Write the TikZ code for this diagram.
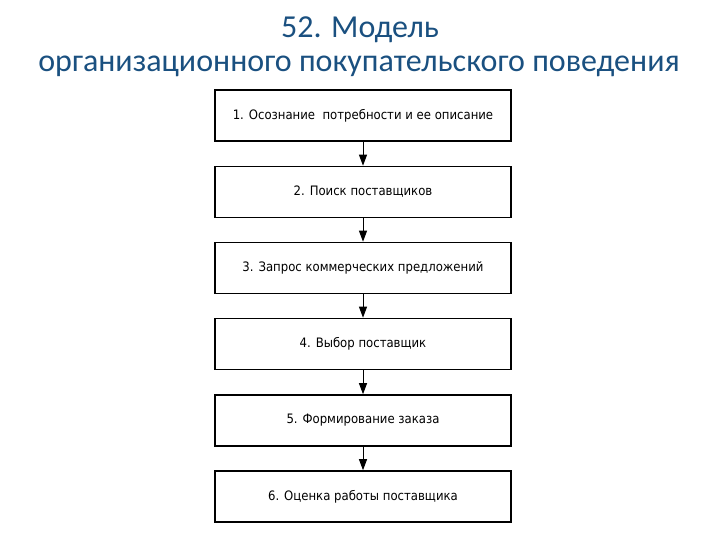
\documentclass[tikz,border=0pt]{standalone}
\usepackage{fontspec}
\setmainfont{Carlito}
\newfontfamily\boxfont{DejaVu Sans Condensed}
\usetikzlibrary{arrows.meta}
\definecolor{titleblue}{RGB}{26,80,128}
\tikzset{
  stepbox/.style={draw=black, line width=1.6pt, fill=white, minimum width=296pt, minimum height=51pt, inner sep=0pt, font=\boxfont\fontsize{13}{15}\selectfont},
  flow/.style={-{Triangle[length=11pt,width=8pt]}, line width=1pt},
  titletext/.style={text=titleblue, font=\fontsize{32}{36}\selectfont, inner sep=0pt}
}
\begin{document}
\begin{tikzpicture}[x=1pt,y=-1pt]
\useasboundingbox (0,0) rectangle (720,540);
\node[titletext] (t1) at (360,30) {52. Модель};
\node[titletext] (t2) at (359,66) {организационного покупательского поведения};
\node[stepbox] (b1) at (363,115.5) {1. Осознание\ \ потребности и ее описание};
\node[stepbox] (b2) at (363,192) {2. Поиск поставщиков};
\node[stepbox] (b3) at (363,268) {3. Запрос коммерческих предложений};
\node[stepbox] (b4) at (363,344) {4. Выбор поставщик};
\node[stepbox] (b5) at (363,420.5) {5. Формирование заказа};
\node[stepbox] (b6) at (363,496.5) {6. Оценка работы поставщика};
\draw[flow] (b1) -- (b2);
\draw[flow] (b2) -- (b3);
\draw[flow] (b3) -- (b4);
\draw[flow] (b4) -- (b5);
\draw[flow] (b5) -- (b6);
\end{tikzpicture}
\end{document}
